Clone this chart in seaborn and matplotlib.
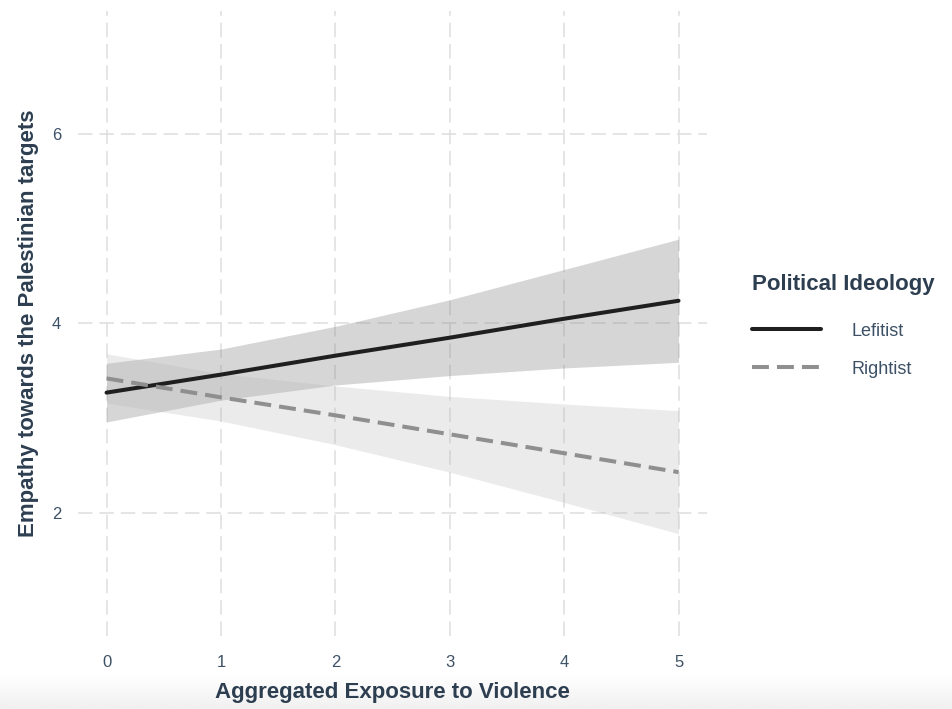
import numpy as np
import pandas as pd
import matplotlib
matplotlib.use("Agg")
import matplotlib.pyplot as plt
import seaborn as sns

# Predicted empathy by exposure level, with 95% confidence bands
exposure = [0, 1, 2, 3, 4, 5]

leftist_fit = [3.27, 3.46, 3.66, 3.85, 4.05, 4.24]
leftist_low = [2.96, 3.19, 3.35, 3.45, 3.53, 3.59]
leftist_high = [3.58, 3.73, 3.97, 4.25, 4.57, 4.89]

rightist_fit = [3.42, 3.22, 3.03, 2.83, 2.63, 2.43]
rightist_low = [3.16, 2.97, 2.72, 2.43, 2.11, 1.78]
rightist_high = [3.68, 3.47, 3.34, 3.23, 3.15, 3.08]

groups = ["Lefitist", "Rightist"]
x_ticks = [0, 1, 2, 3, 4, 5]
y_ticks = [2, 4, 6]

TITLE_COLOR = "#2c3e50"
TICK_COLOR = "#3d5166"
GRID_COLOR = "#dedede"

sns.set_style("white")
plt.rcParams["font.family"] = ["Liberation Sans", "DejaVu Sans"]

df = pd.DataFrame({
    "exposure": exposure * 2,
    "empathy": leftist_fit + rightist_fit,
    "ideology": [groups[0]] * len(exposure) + [groups[1]] * len(exposure),
})

fig = plt.figure(figsize=(9.53, 7.09), dpi=100)
ax = fig.add_axes([0.0818, 0.103, 0.742 - 0.0818, 0.9845 - 0.103])
ax.set_zorder(1)

# soft grey strip along the bottom edge
strip = fig.add_axes([0, 0, 1, 0.048])
strip.set_zorder(0)
grad = np.linspace(1.0, 0.94, 64).reshape(-1, 1)
strip.imshow(grad, aspect="auto", cmap="gray", vmin=0, vmax=1,
             extent=[0, 1, 0, 1], origin="upper")
strip.axis("off")
ax.patch.set_alpha(0)

# confidence bands
ax.fill_between(exposure, leftist_low, leftist_high, color="#8c8c8c",
                alpha=0.35, linewidth=0, zorder=2)
ax.fill_between(exposure, rightist_low, rightist_high, color="#b3b3b3",
                alpha=0.25, linewidth=0, zorder=2)

sns.lineplot(data=df, x="exposure", y="empathy", hue="ideology",
             style="ideology", palette={"Lefitist": "#1f1f1f", "Rightist": "#8f8f8f"},
             dashes={"Lefitist": "", "Rightist": (4.2, 2.0)},
             linewidth=2.9, ax=ax, zorder=3)

ax.set_xlim(-0.25, 5.25)
ax.set_ylim(0.7, 7.3)
ax.set_xticks(x_ticks)
ax.set_yticks(y_ticks)
ax.tick_params(axis="both", length=0, labelsize=12, labelcolor=TICK_COLOR)
ax.tick_params(axis="x", pad=14)
ax.tick_params(axis="y", pad=12)

for s in ax.spines.values():
    s.set_visible(False)

ax.grid(True, color=GRID_COLOR, linewidth=1.1, linestyle=(0, (9.5, 4.5)), zorder=0)
ax.set_axisbelow(True)

ax.set_xlabel("Aggregated Exposure to Violence", fontsize=16, fontweight="bold",
              color=TITLE_COLOR, labelpad=8)
ax.set_ylabel("Empathy towards the Palestinian targets", fontsize=16,
              fontweight="bold", color=TITLE_COLOR, labelpad=9)

handles, labels = ax.get_legend_handles_labels()
leg = ax.legend(handles, labels, title="Political Ideology",
                loc="upper left", bbox_to_anchor=(752 / 953, 1 - 274 / 709),
                bbox_transform=fig.transFigure, frameon=False,
                fontsize=13, title_fontsize=16, handlelength=3.8,
                handletextpad=1.7, labelspacing=1.15, borderpad=0,
                borderaxespad=0, alignment="left")
leg._legend_box.sep = 20
leg.get_title().set_fontweight("bold")
leg.get_title().set_color(TITLE_COLOR)
for t in leg.get_texts():
    t.set_color(TICK_COLOR)
for h in leg.get_lines():
    h.set_linewidth(2.9)

fig.savefig("out.png", dpi=100)
